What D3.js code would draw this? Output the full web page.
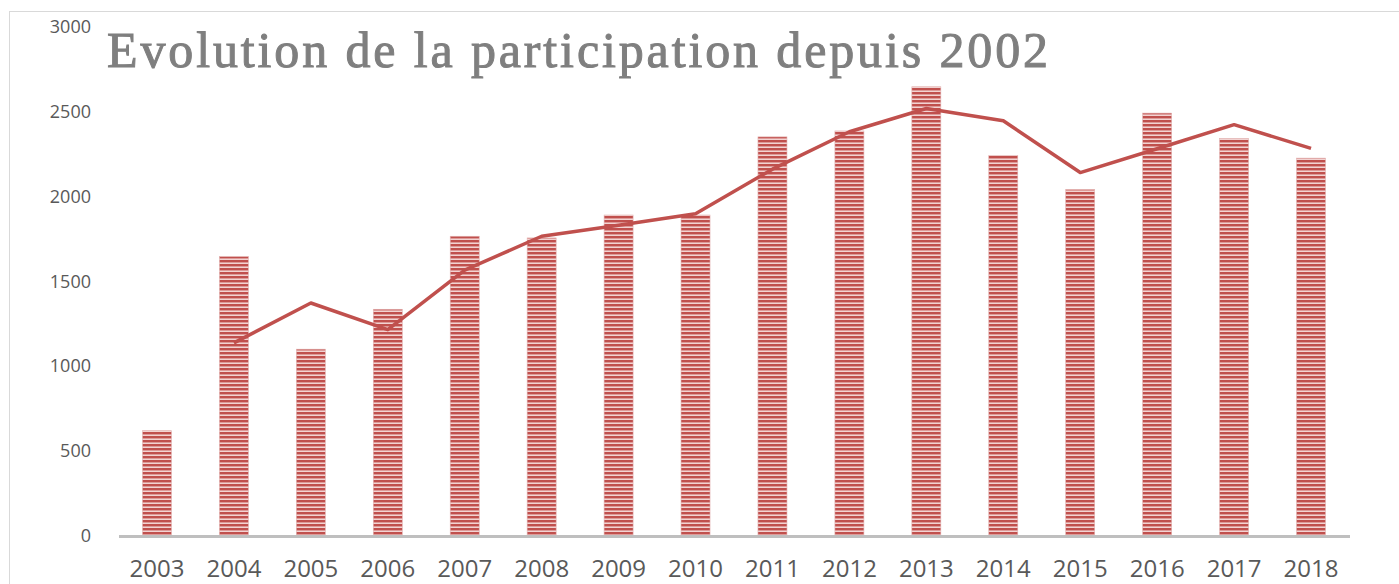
<!DOCTYPE html>
<html><head><meta charset="utf-8">
<script src="https://cdn.jsdelivr.net/npm/d3@7"></script>
<style>html,body{margin:0;padding:0;background:#fff;overflow:hidden}</style>
</head><body>
<svg id="c" width="1399" height="584"></svg>
<script>
const years = ["2003","2004","2005","2006","2007","2008","2009","2010","2011","2012","2013","2014","2015","2016","2017","2018"];
const participants = [620,1645,1100,1335,1765,1755,1890,1890,2350,2385,2645,2240,2040,2490,2340,2225];
const trendYears = ["2004","2005","2006","2007","2008","2009","2010","2011","2012","2013","2014","2015","2016","2017","2018"];
const trendValues = [1137,1372,1215,1565,1765,1830,1898,2160,2380,2517,2445,2140,2280,2422,2282];
const yTicks = [0,500,1000,1500,2000,2500,3000];
const title = "Evolution de la participation depuis 2002";

const svg = d3.select("#c");
const defs = svg.append("defs");
const pat = defs.append("pattern").attr("id","stripes").attr("patternUnits","userSpaceOnUse")
  .attr("width",8).attr("height",4);
pat.append("rect").attr("width",8).attr("height",4).attr("fill","#f2d3d2");
pat.append("rect").attr("y",0).attr("width",8).attr("height",2).attr("fill","#c0504d");
pat.append("rect").attr("y",2).attr("width",8).attr("height",1).attr("fill","#dd9a98");

// chart border
svg.append("rect").attr("x",9.5).attr("y",11.5).attr("width",1500).attr("height",700)
  .attr("fill","none").attr("stroke","#d9d9d9").attr("stroke-width",1);

const x = d3.scaleBand().domain(years).range([118.5,1349.5]).paddingInner(0.623).paddingOuter(0.3115);
const y = d3.scaleLinear().domain([0,3000]).range([536,26.5]);

// y axis labels
const ya = svg.append("g").attr("transform","translate(91,0)")
  .call(d3.axisLeft(y).tickValues(yTicks).tickSize(0).tickPadding(0).tickFormat(d3.format("d")));
ya.select(".domain").remove();
ya.selectAll("text").attr("font-family","'Open Sans', sans-serif").attr("font-size",18).attr("fill","#595959");

// bars
svg.append("g").selectAll("rect").data(years).join("rect")
  .attr("x",d=>x(d)).attr("width",x.bandwidth())
  .attr("y",(d,i)=>y(participants[i])).attr("height",(d,i)=>y(0)-y(participants[i]))
  .attr("fill","url(#stripes)").attr("stroke","#e2b1b0").attr("stroke-width",0.6);

// baseline / x axis
const xa = svg.append("g").attr("transform","translate(0,536)")
  .call(d3.axisBottom(x).tickSize(0).tickPadding(24));
xa.select(".domain").attr("stroke","#bfbfbf").attr("stroke-width",3);
xa.selectAll("text").attr("font-family","'Open Sans', sans-serif").attr("font-size",24).attr("fill","#595959");

// trend line
const line = d3.line().x((d,i)=>x(trendYears[i])+x.bandwidth()/2).y(d=>y(d));
svg.append("path").datum(trendValues).attr("d",line).attr("fill","none")
  .attr("stroke","#c0504d").attr("stroke-width",3.5).attr("stroke-linejoin","round");

// title
svg.append("text").attr("x",107).attr("y",67).text(title)
  .attr("font-family","'Liberation Serif', 'DejaVu Serif', serif").attr("font-size",50)
  .attr("fill","#7f7f7f").attr("stroke","#7f7f7f").attr("stroke-width",1)
  .attr("textLength",941).attr("lengthAdjust","spacing");
</script>
</body></html>
